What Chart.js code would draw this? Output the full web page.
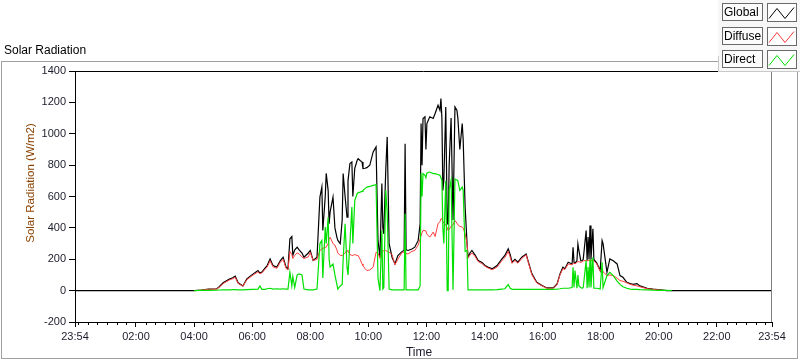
<!DOCTYPE html>
<html>
<head>
<meta charset="utf-8">
<script src="https://cdn.jsdelivr.net/npm/chart.js@4"></script>
<style>
  html, body { margin: 0; padding: 0; background: #fff; }
</style>
</head>
<body>
<canvas id="myChart" width="800" height="361"></canvas>
<script>
// time in minutes since midnight (23:54 of the previous day = -6)
var times = [
  -6, 240, 255, 270, 287, 292, 300, 314, 320, 325,
  331, 341, 349, 360, 372, 376, 380, 387, 391, 397,
  403, 411, 418, 424, 430, 434, 438, 442, 444, 448,
  453, 457, 463, 467, 476, 480, 486, 494, 500, 504,
  506, 511, 513, 517, 519, 521, 527, 531, 535, 537,
  542, 546, 548, 552, 556, 558, 562, 566, 568, 572,
  577, 579, 583, 587, 589, 593, 597, 603, 610, 616,
  620, 624, 628, 630, 632, 636, 639, 643, 649, 655,
  661, 670, 674, 676, 678, 682, 690, 696, 703, 707,
  709, 711, 713, 717, 719, 721, 727, 734, 738, 744,
  748, 750, 752, 754, 756, 760, 763, 765, 767, 771,
  775, 779, 783, 785, 789, 794, 796, 800, 804, 806,
  810, 814, 820, 827, 835, 841, 847, 856, 866, 876,
  882, 889, 893, 897, 903, 909, 917, 926, 930, 938,
  948, 959, 969, 982, 990, 996, 1002, 1006, 1013, 1021,
  1023, 1025, 1027, 1031, 1033, 1035, 1039, 1042, 1044, 1050,
  1052, 1054, 1056, 1058, 1060, 1064, 1066, 1072, 1079, 1083,
  1085, 1093, 1099, 1106, 1114, 1120, 1126, 1134, 1141, 1147,
  1155, 1161, 1176, 1188, 1203, 1217, 1227, 1434
];

var globalRad = [
  0, 0, 4, 10, 12, 25, 50, 75, 82, 92,
  50, 30, 75, 102, 128, 112, 118, 145, 160, 202,
  160, 150, 190, 213, 150, 140, 330, 345, 224, 260,
  277, 260, 240, 213, 240, 256, 192, 213, 596, 660,
  383, 600, 747, 639, 426, 500, 596, 400, 341, 320,
  300, 450, 747, 600, 468, 700, 810, 820, 600, 780,
  831, 841, 830, 820, 778, 780, 784, 799, 884, 916,
  320, 213, 682, 400, 362, 767, 980, 300, 213, 170,
  224, 250, 256, 937, 260, 256, 265, 277, 320, 426,
  1065, 800, 1097, 1108, 900, 1065, 1108, 1097, 1129, 1182,
  1150, 1225, 1100, 639, 700, 1171, 426, 426, 800, 1100,
  450, 1171, 1150, 1100, 900, 1065, 959, 533, 300, 213,
  240, 256, 230, 192, 180, 160, 150, 139, 160, 202,
  224, 266, 230, 181, 200, 181, 213, 234, 190, 107,
  53, 32, 17, 17, 43, 107, 149, 140, 181, 170,
  277, 180, 175, 190, 298, 256, 190, 192, 200, 383,
  190, 341, 200, 415, 200, 394, 200, 175, 128, 320,
  300, 117, 202, 190, 170, 96, 85, 53, 45, 40,
  45, 30, 15, 10, 5, 0, 0, 0
];

var diffuseRad = [
  null, 0, 3, 8, 10, 22, 45, 70, 76, 85,
  46, 28, 70, 95, 120, 108, 112, 138, 150, 190,
  152, 142, 180, 200, 142, 132, 250, 230, 205, 225,
  240, 234, 215, 205, 215, 245, 192, 200, 256, 265,
  270, 275, 277, 300, 330, 341, 300, 290, 260, 240,
  224, 224, 230, 240, 256, 250, 230, 225, 224, 230,
  224, 224, 200, 170, 160, 141, 128, 132, 150, 245,
  240, 205, 240, 250, 256, 256, 250, 245, 230, 165,
  200, 245, 245, 240, 236, 234, 250, 256, 290, 330,
  350, 370, 383, 383, 380, 360, 341, 373, 345, 426,
  440, 458, 458, 440, 430, 420, 400, 383, 390, 410,
  420, 447, 430, 420, 410, 405, 400, 362, 300, 210,
  225, 240, 220, 185, 172, 155, 145, 133, 150, 192,
  210, 250, 215, 175, 192, 175, 205, 228, 185, 100,
  50, 30, 15, 15, 40, 100, 140, 135, 170, 165,
  175, 175, 170, 180, 185, 185, 180, 185, 190, 192,
  190, 192, 195, 195, 195, 192, 190, 170, 125, 140,
  120, 96, 100, 96, 80, 64, 60, 50, 40, 35,
  30, 25, 12, 8, 3, 0, null, null
];

var directRad = [
  null, 0, 1, 2, 3, 4, 5, 5, 6, 6,
  5, 5, 6, 8, 10, 30, 8, 8, 12, 15,
  10, 12, 10, 12, 10, 10, 117, 30, 90, 20,
  100, 107, 100, 10, 5, 5, 5, 10, 300, 320,
  80, 405, 300, 468, 200, 150, 170, 100, 40, 10,
  30, 40, 200, 426, 150, 100, 300, 533, 300, 575,
  618, 625, 628, 633, 639, 650, 660, 664, 671, 675,
  80, 0, 383, 10, 20, 639, 500, 10, 5, 5,
  5, 5, 5, 490, 5, 5, 5, 5, 5, 30,
  746, 600, 746, 735, 720, 750, 756, 746, 746, 740,
  735, 720, 703, 400, 300, 700, 0, 0, 639, 703,
  5, 710, 705, 700, 639, 660, 640, 250, 256, 5,
  5, 5, 5, 5, 5, 5, 5, 5, 6, 10,
  12, 38, 15, 8, 8, 8, 8, 8, 8, 8,
  8, 8, 8, 8, 10, 12, 15, 15, 15, 20,
  149, 20, 128, 15, 100, 30, 20, 15, 20, 192,
  15, 150, 20, 200, 20, 213, 15, 15, 10, 181,
  20, 96, 117, 96, 60, 40, 25, 15, 10, 8,
  8, 6, 5, 3, 2, 1, 0, null
];

var xTickValues = [-6, 120, 240, 360, 480, 600, 720, 840, 960, 1080, 1200, 1320, 1434];
var xTickLabels = ['23:54', '02:00', '04:00', '06:00', '08:00', '10:00', '12:00',
                   '14:00', '16:00', '18:00', '20:00', '22:00', '23:54'];
var yTickValues = [-200, 0, 200, 400, 600, 800, 1000, 1200, 1400];

var seriesNames = ['Global', 'Diffuse', 'Direct'];
var seriesColors = ['#000000', '#ff3c3c', '#00e000'];

function toPoints(arr) {
  return times.map(function (t, i) { return { x: t, y: arr[i] }; });
}

var tickFont = { family: 'Liberation Sans', size: 11 };
var tickColor = '#1c1c2c';

var framePlugin = {
  id: 'frame',
  afterDraw: function (chart) {
    var c = chart.ctx, a = chart.chartArea, xs = chart.scales.x;
    c.save();
    c.lineWidth = 1;

    // outer frame
    c.strokeStyle = '#a0a0a0';
    c.strokeRect(1.5, 61.5, 796, 297);

    // plot top and right edges
    c.strokeStyle = '#000';
    c.beginPath(); c.moveTo(a.left, a.top + 0.5); c.lineTo(a.right, a.top + 0.5); c.stroke();
    c.strokeStyle = '#808080';
    c.beginPath(); c.moveTo(a.right - 0.5, a.top); c.lineTo(a.right - 0.5, a.bottom); c.stroke();

    // minor x ticks every 20 min
    c.strokeStyle = '#000';
    c.beginPath();
    for (var m = 0; m <= 1420; m += 20) {
      if (m % 120 === 0 && m > 0) continue;
      var px = Math.round(xs.getPixelForValue(m)) + 0.5;
      c.moveTo(px, a.bottom); c.lineTo(px, a.bottom + 3);
    }
    c.stroke();

    // titles
    c.fillStyle = '#000';
    c.font = '12px "Liberation Sans"';
    c.textBaseline = 'middle';
    c.textAlign = 'left';
    c.fillText('Solar Radiation', 4, 51);
    c.textAlign = 'center';
    c.fillStyle = '#1c1c2c';
    c.fillText('Time', 419, 353);

    c.save();
    c.translate(31, 183);
    c.rotate(-Math.PI / 2);
    c.fillStyle = '#8a4200';
    c.font = '11.5px "Liberation Sans"';
    c.fillText('Solar Radiation (W/m2)', 0, 0);
    c.restore();

    // legend panel
    c.fillStyle = '#f7f7f7';
    c.fillRect(718, 0, 82, 72);
    c.strokeStyle = '#c8c8c8';
    c.beginPath(); c.moveTo(718.5, 56); c.lineTo(718.5, 71.5); c.lineTo(800, 71.5); c.stroke();

    for (var i = 0; i < seriesNames.length; i++) {
      var y0 = Math.round(3 + i * 23.5);
      c.fillStyle = '#fcfcfc';
      c.fillRect(722, y0, 41, 18);
      c.strokeStyle = '#6a6a6a';
      c.strokeRect(722.5, y0 + 0.5, 40, 17);
      c.fillStyle = '#000';
      c.textAlign = 'left';
      c.font = '12px "Liberation Sans"';
      c.fillText(seriesNames[i], 724, y0 + 9.5);

      c.fillStyle = '#ffffff';
      c.fillRect(767, y0, 30, 19);
      c.strokeStyle = '#6a6a6a';
      c.strokeRect(767.5, y0 + 0.5, 29, 18);
      c.strokeStyle = seriesColors[i];
      c.beginPath();
      c.moveTo(769, y0 + 15.5);
      c.lineTo(777, y0 + 5.5);
      c.lineTo(785, y0 + 15.5);
      c.lineTo(794, y0 + 4.5);
      c.stroke();
    }
    c.restore();
  }
};

var ctx = document.getElementById('myChart').getContext('2d');
var myChart = new Chart(ctx, {
  type: 'line',
  data: {
    datasets: [{
      label: 'Global',
      data: toPoints(globalRad),
      borderColor: seriesColors[0],
      borderWidth: 1.2,
      order: 2
    }, {
      label: 'Diffuse',
      data: toPoints(diffuseRad),
      borderColor: seriesColors[1],
      borderWidth: 1,
      order: 1
    }, {
      label: 'Direct',
      data: toPoints(directRad),
      borderColor: seriesColors[2],
      borderWidth: 1.2,
      order: 0
    }]
  },
  options: {
    responsive: false,
    animation: false,
    spanGaps: false,
    elements: { point: { radius: 0 }, line: { tension: 0 } },
    layout: { padding: { top: 71, right: 28, left: 0, bottom: 0 } },
    plugins: {
      legend: { display: false },
      tooltip: { enabled: false }
    },
    scales: {
      x: {
        type: 'linear',
        min: -6,
        max: 1434,
        afterFit: function (s) { s.height = 39; },
        afterBuildTicks: function (s) {
          s.ticks = xTickValues.map(function (v) { return { value: v }; });
        },
        ticks: {
          autoSkip: false,
          maxRotation: 0,
          padding: 3,
          font: tickFont,
          color: tickColor,
          callback: function (v, i) { return xTickLabels[i]; }
        },
        grid: { drawOnChartArea: false, tickLength: 5, color: '#000' },
        border: { color: '#000' }
      },
      y: {
        min: -200,
        max: 1400,
        afterFit: function (s) { s.width = 75; },
        afterBuildTicks: function (s) {
          s.ticks = yTickValues.map(function (v) { return { value: v }; });
        },
        ticks: {
          padding: 3,
          font: tickFont,
          color: tickColor,
          callback: function (v) { return String(v); }
        },
        grid: { drawOnChartArea: false, tickLength: 6, color: '#000' },
        border: { color: '#000' }
      }
    }
  },
  plugins: [framePlugin]
});
</script>
</body>
</html>
